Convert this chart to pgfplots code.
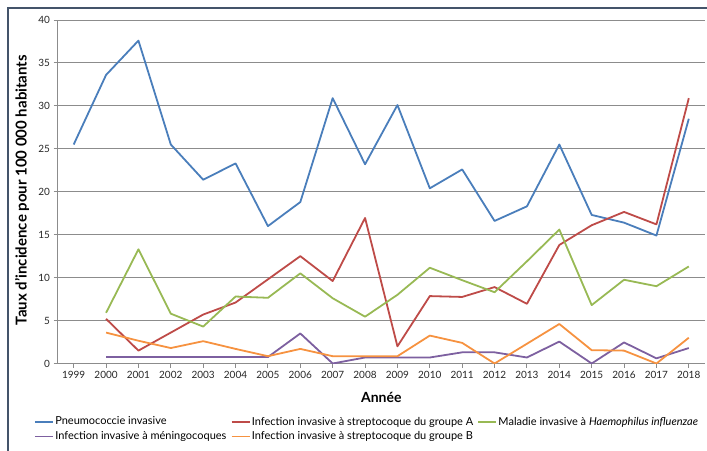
\documentclass[border=0pt]{standalone}
\usepackage{fontspec}
\setmainfont{Lato}
\usepackage{pgfplots}
\usepackage{pgfplotstable}
\pgfplotsset{compat=1.18}

\definecolor{cPneumo}{HTML}{4A7EBB}
\definecolor{cStrepA}{HTML}{BE4B48}
\definecolor{cHaemo}{HTML}{98B954}
\definecolor{cMening}{HTML}{7D60A0}
\definecolor{cStrepB}{HTML}{F69240}
\definecolor{cGrid}{HTML}{8C8C8C}
\definecolor{cFrame}{HTML}{44546A}

% Taux d'incidence pour 100 000 habitants
\pgfplotstableread{
year pneumo strepA haemo mening strepB
1999 25.5 nan nan nan nan
2000 33.6 5.2 5.9 0.75 3.6
2001 37.6 1.5 13.3 0.75 2.65
2002 25.5 3.6 5.8 0.75 1.8
2003 21.4 5.7 4.3 0.75 2.6
2004 23.3 7.1 7.8 0.75 1.7
2005 16.0 9.8 7.65 0.75 0.85
2006 18.8 12.5 10.5 3.5 1.7
2007 30.9 9.6 7.6 0.0 0.85
2008 23.2 16.95 5.45 0.7 0.85
2009 30.1 2.0 8.0 0.7 0.85
2010 20.4 7.85 11.15 0.7 3.25
2011 22.6 7.75 9.7 1.3 2.4
2012 16.6 8.9 8.3 1.3 0.0
2013 18.3 6.95 11.9 0.7 2.3
2014 25.5 13.8 15.6 2.55 4.6
2015 17.3 16.1 6.8 0.0 1.55
2016 16.4 17.65 9.75 2.45 1.5
2017 14.9 16.2 9.0 0.6 0.0
2018 28.5 30.9 11.3 1.8 3.0
}\incidence

% fixed-width legend cells
\newcommand{\colA}[1]{\makebox[174pt][l]{#1}}
\newcommand{\colB}[1]{\makebox[224pt][l]{#1}}

\begin{document}
\begin{tikzpicture}
\useasboundingbox (0pt,0pt) rectangle (707pt,450pt);
\draw[cFrame, line width=1.2pt] (8pt,-10pt) -- (8pt,442pt) -- (720pt,442pt);
\begin{axis}[
  at={(57.5pt,86.5pt)}, anchor=south west,
  scale only axis, width=647.5pt, height=343.5pt,
  xmin=1998.5, xmax=2018.5, ymin=0, ymax=40,
  xtick={1999,...,2018}, ytick={0,5,...,40},
  axis x line*=bottom, axis y line*=left,
  axis line style={cGrid, line width=0.9pt},
  ymajorgrids, grid style={cGrid, line width=0.9pt},
  tick align=outside, major tick length=4pt,
  tick style={cGrid, line width=0.9pt},
  /pgf/number format/.cd, 1000 sep={}, assume math mode=true,
  /pgfplots/.cd,
  tick label style={font=\fontsize{10}{12}\selectfont, text=black!85},
  xlabel={Année},
  xlabel style={font=\fontsize{14}{16}\selectfont\bfseries, at={(axis description cs:0.5,-0.0975)}, anchor=center},
  ylabel={Taux d’incidence pour 100 000 habitants},
  ylabel style={font=\fontsize{15}{17}\selectfont\bfseries, at={(axis description cs:-0.0548,0.505)}, anchor=center},
  unbounded coords=jump,
  every axis plot/.append style={line width=1.8pt, line join=round, no markers},
  legend columns=3,
  legend cell align=left,
  legend image code/.code={\draw[#1, line width=1.6pt] (0pt,0pt) -- (18pt,0pt);},
  legend style={draw=none, fill=none, inner sep=0pt, anchor=west,
    at={(axis description cs:-0.0363,-0.1907)},
    font=\fontsize{11}{13}\selectfont,
    nodes={inner sep=1.5pt}, column sep=0pt, row sep=2pt},
]
\addplot[cPneumo] table[x=year, y=pneumo] {\incidence};
\addlegendentry{\colA{Pneumococcie invasive}}
\addplot[cStrepA] table[x=year, y=strepA] {\incidence};
\addlegendentry{\colB{Infection invasive à streptocoque du groupe A}}
\addplot[cHaemo] table[x=year, y=haemo] {\incidence};
\addlegendentry{Maladie invasive à \textit{Haemophilus influenzae}}
\addplot[cMening] table[x=year, y=mening] {\incidence};
\addlegendentry{\colA{Infection invasive à méningocoques}}
\addplot[cStrepB] table[x=year, y=strepB] {\incidence};
\addlegendentry{\colB{Infection invasive à streptocoque du groupe B}}
\end{axis}
\end{tikzpicture}
\end{document}
